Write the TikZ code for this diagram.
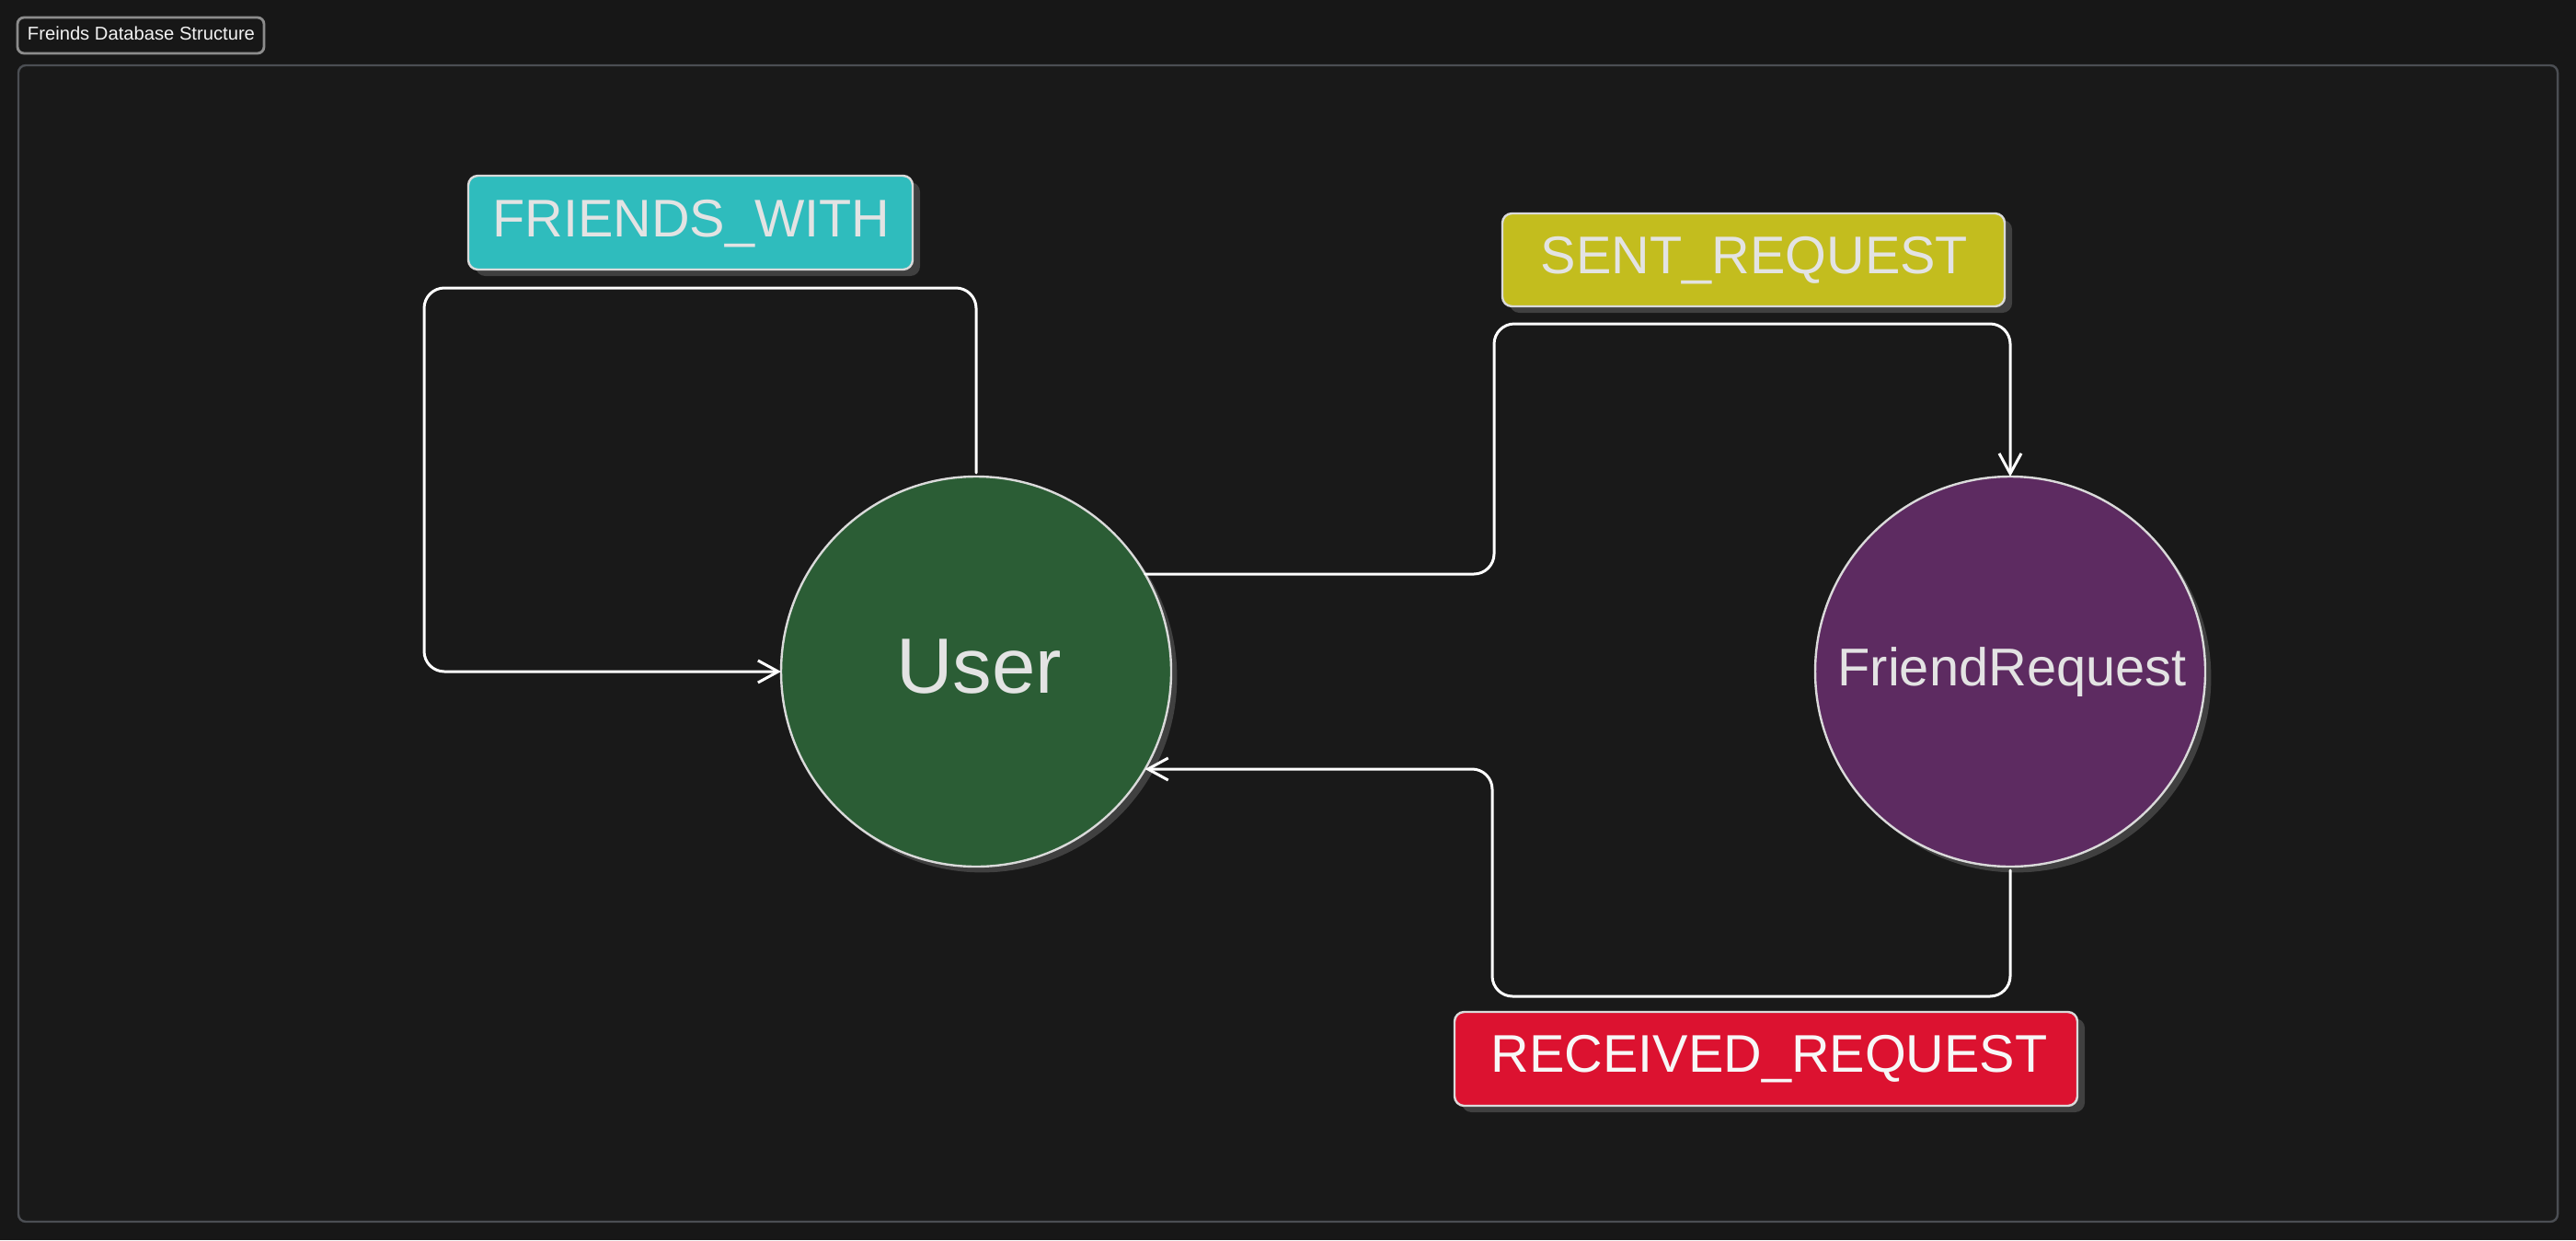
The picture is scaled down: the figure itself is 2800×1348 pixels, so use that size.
\documentclass[tikz,border=0pt]{standalone}
\usepackage{fontspec}
\setmainfont{Liberation Sans}
\usetikzlibrary{shadows,arrows.meta}
\definecolor{bg}{HTML}{171717}
\definecolor{framebg}{HTML}{191919}
\definecolor{frameline}{HTML}{4B4E53}
\definecolor{titleline}{HTML}{8C8C8C}
\definecolor{boxline}{HTML}{DADADA}
\definecolor{shadowc}{HTML}{404040}
\definecolor{txt}{HTML}{E3E3E3}
\definecolor{cyanfill}{HTML}{2FBCBD}
\definecolor{yellowfill}{HTML}{C3BD1E}
\definecolor{redfill}{HTML}{DC1230}
\definecolor{greenfill}{HTML}{2B5D35}
\definecolor{purplefill}{HTML}{5D2B61}
\tikzset{
  labelbox/.style={draw=boxline, line width=0.6pt, rounded corners=2.6pt, inner sep=0pt, outer sep=0pt,
    drop shadow={shadow xshift=2pt, shadow yshift=-1.75pt, fill=shadowc, opacity=1}},
  labeltext/.style={anchor=base, inner sep=0pt, outer sep=0pt, text=txt, font=\fontsize{14.4pt}{17pt}\selectfont},
  entity/.style={circle, draw=boxline, line width=0.6pt, minimum size=106pt, inner sep=0pt, outer sep=0pt,
    drop shadow={shadow xshift=1.6pt, shadow yshift=-1.6pt, fill=shadowc, opacity=1}},
  conn/.style={draw=white, line width=0.75pt, rounded corners=5.5pt, line cap=round, line join=round},
  tip/.style={-{Straight Barb[length=5.5pt, width=6pt, line width=0.75pt]}}
}
\begin{document}
\begin{tikzpicture}[x=0.25pt, y=-0.25pt]
\useasboundingbox (0,0) rectangle (2800,1348);
\fill[bg] (0,0) rectangle (2800,1348);
% frame
\draw[draw=frameline, fill=framebg, line width=0.6pt, rounded corners=2pt] (20,71) rectangle (2780,1328);
% title
\node[draw=titleline, line width=0.7pt, rounded corners=1.8pt, minimum width=67pt, minimum height=9.75pt, inner sep=0pt] (titlebox) at (153,38.5) {};
\node[anchor=base, inner sep=0pt, text=white!95!black, font=\fontsize{5.05pt}{6pt}\selectfont] (title) at (153.5,44) {Freinds Database Structure};
% entities
\node[entity, fill=greenfill] (user) at (1061,730) {};
\node[anchor=base, inner sep=0pt, text=txt, font=\fontsize{21.3pt}{25pt}\selectfont] (usert) at (1064,753) {User};
\node[entity, fill=purplefill] (fr) at (2185,730) {};
\node[anchor=base, inner sep=0pt, text=txt, font=\fontsize{14.45pt}{17pt}\selectfont] (frt) at (2187,745) {FriendRequest};
% labels
\node[labelbox, fill=cyanfill, minimum width=120.75pt, minimum height=25.5pt] (fw) at (750.5,242) {};
\node[labeltext] (fwt) at (751.5,257) {FRIENDS\_WITH};
\node[labelbox, fill=yellowfill, minimum width=136.5pt, minimum height=25.25pt] (sr) at (1906,282.5) {};
\node[labeltext] (srt) at (1907,297) {SENT\_REQUEST};
\node[labelbox, fill=redfill, minimum width=169.25pt, minimum height=25.5pt] (rr) at (1919.5,1151) {};
\node[labeltext, text=white!97!black] (rrt) at (1923,1165) {RECEIVED\_REQUEST};
% bend points
\coordinate (fwA) at (1061,313);
\coordinate (fwB) at (461,313);
\coordinate (srA) at (1624,352);
\coordinate (rrA) at (1622,1083);
% connectors
\draw[conn, tip] ([yshift=1pt]user.north) -- (fwA) -- (fwB) |- (user.west);
\draw[conn, tip] (user.30) -| (srA) -| (fr.north);
\draw[conn, tip] ([yshift=-1pt]fr.south) |- (rrA) |- (user.-30);
\end{tikzpicture}
\end{document}
